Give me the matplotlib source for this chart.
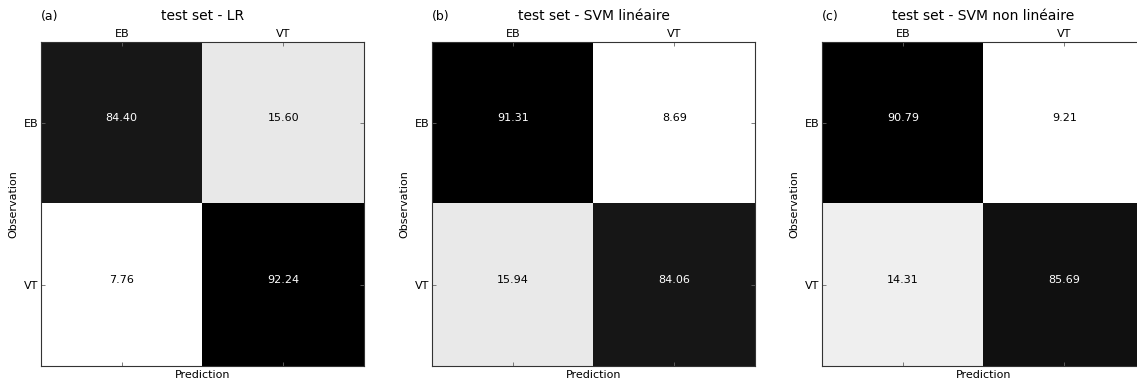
import matplotlib
matplotlib.use("Agg")
import matplotlib.pyplot as plt
import numpy as np

classes = ["EB", "VT"]
titles = ["test set - LR", "test set - SVM linéaire", "test set - SVM non linéaire"]
panel_tags = ["(a)", "(b)", "(c)"]

# confusion matrices in percent (rows = observation, cols = prediction)
cm_lr = [[84.40, 15.60], [7.76, 92.24]]
cm_svm_lin = [[91.31, 8.69], [15.94, 84.06]]
cm_svm_nonlin = [[90.79, 9.21], [14.31, 85.69]]
matrices = [cm_lr, cm_svm_lin, cm_svm_nonlin]

fig = plt.figure(figsize=(11.37, 3.81), dpi=100)

W, H = 1137.0, 381.0
lefts = [41, 432, 822]
for i, cm in enumerate(matrices):
    cm = np.array(cm)
    ax = fig.add_axes([lefts[i] / W, 15 / H, 323 / W, 324 / H])
    ax.imshow(cm, cmap="gray_r", interpolation="nearest", aspect="auto")
    thresh = cm.max() / 2.0
    for r in range(2):
        for c in range(2):
            ax.text(c, r - 0.03, "%.2f" % cm[r, c], ha="center", va="center",
                    fontsize=8, color="white" if cm[r, c] > thresh else "black")
    ax.set_xticks(range(2))
    ax.set_yticks(range(2))
    ax.set_xticklabels(classes, fontsize=8)
    ax.set_yticklabels(classes, fontsize=8)
    ax.xaxis.tick_top()
    ax.tick_params(direction="in", length=3, width=0.6, color="#666666",
                   top=True, bottom=True, left=True, right=True,
                   labeltop=True, labelbottom=False, pad=2)
    ax.set_xlabel("Prediction", fontsize=8, labelpad=3)
    ax.xaxis.set_label_position("bottom")
    ax.set_ylabel("Observation", fontsize=8, labelpad=4)
    for s in ax.spines.values():
        s.set_linewidth(0.8)
        s.set_color("#333333")
    ax.set_title(titles[i], fontsize=10, pad=13)
    ax.set_title(panel_tags[i], loc="left", fontsize=9, pad=16)

fig.savefig("out.png", dpi=100)
